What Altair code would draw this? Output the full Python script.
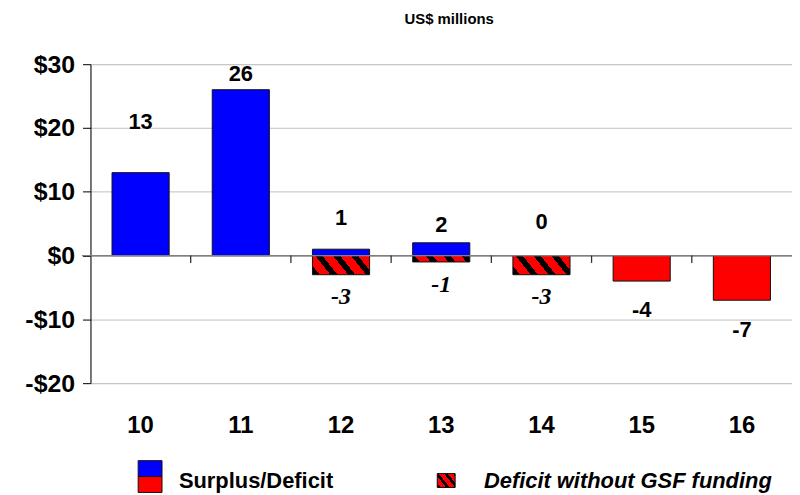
import altair as alt
import pandas as pd

# ---------------- data ----------------
years = ["10", "11", "12", "13", "14", "15", "16"]
surplus = [13, 26, 1, 2, 0, -4, -7]
deficit_no_gsf = [None, None, -3, -1, -3, None, None]
surplus_label_at = [21.0, 28.5, 5.9, 4.8, 5.2, -8.6, -11.6]
no_gsf_label_at = [None, None, -6.45, -4.6, -6.45, None, None]
y_ticks = [-20, -10, 0, 10, 20, 30]
y_domain = [-20, 30]

# ---------------- layout ----------------
W, H = 706, 321
PAD_IN = 0.43
PAD_OUT = PAD_IN / 2
step = W / (len(years) - PAD_IN + 2 * PAD_OUT)
bar_w = step * (1 - PAD_IN)
px_per_unit = H / (y_domain[1] - y_domain[0])

BLUE = "#0000FF"
RED = "#FF0000"
FONT = "Liberation Sans"
SERIF = "Liberation Serif"


def hatch(w, h, period=18.0, slope=0.8, frac=0.4):
    """Diagonal black-on-red stripes as a linear gradient (bbox units)."""
    k = slope * h / w
    gx = (1 + k) / (1 + k * k)
    gy = -k * gx
    n = (w + slope * h) / period
    stops = []
    i = 0
    while i < n:
        a = i / n
        b = min((i + frac) / n, 1.0)
        c = min((i + 1) / n, 1.0)
        stops += [(a, "black"), (b, "black"), (b, RED), (c, RED)]
        i += 1
    return alt.LinearGradient(
        gradient="linear",
        stops=[alt.GradientStop(color=col, offset=off) for off, col in stops],
        x1=0, y1=1, x2=gx, y2=1 + gy,
    )


df = pd.DataFrame({
    "year": years,
    "surplus": surplus,
    "no_gsf": deficit_no_gsf,
    "lab_at": surplus_label_at,
    "gsf_lab_at": no_gsf_label_at,
})
df["lab"] = df["surplus"].astype(str)
df["gsf_lab"] = df["no_gsf"].apply(lambda v: "" if pd.isna(v) else str(int(v)))

xscale = alt.Scale(domain=years, paddingInner=PAD_IN, paddingOuter=PAD_OUT)
yscale = alt.Scale(domain=y_domain, nice=False, zero=False)

x_axis = alt.Axis(
    title="", orient="bottom", domain=False, ticks=False, grid=False,
    labelAngle=0, labelFont=FONT, labelFontSize=24, labelFontWeight="bold",
    labelColor="black", labelPadding=31,
)
y_axis = alt.Axis(
    title="", values=y_ticks, grid=True, gridColor="#c0c0c0", gridWidth=1,
    domainColor="black", tickColor="black", tickSize=8,
    labelExpr="datum.value < 0 ? '-$' + abs(datum.value) : '$' + datum.value",
    labelFont=FONT, labelFontSize=25, labelFontWeight="bold",
    labelColor="black", labelPadding=8,
)


def X(field="year:N"):
    return alt.X(field, scale=xscale, axis=x_axis)


def Y(field):
    return alt.Y(field, scale=yscale, axis=y_axis)


base = alt.Chart(df)

# surplus / deficit bars
bars = (
    base.transform_filter(alt.datum.surplus != 0)
    .mark_bar(stroke="#111111", strokeWidth=1)
    .encode(
        x=X(),
        y=Y("surplus:Q"),
        fill=alt.condition(alt.datum.surplus > 0, alt.value(BLUE), alt.value(RED)),
    )
)

# hatched "deficit without GSF funding" bars
hatched_layers = []
for v in sorted(set(x for x in deficit_no_gsf if x is not None)):
    h_px = abs(v) * px_per_unit
    hatched_layers.append(
        base.transform_filter(alt.datum.no_gsf == v)
        .mark_bar(fill=hatch(bar_w, h_px), stroke="#111111", strokeWidth=1)
        .encode(x=X(), y=Y("no_gsf:Q"))
    )

# zero line (also covers the y-axis tick at $0)
zero_line = base.mark_rule(color="#808080", strokeWidth=1).encode(
    y=alt.datum(0, scale=yscale, axis=y_axis),
    x=alt.value(-8),
    x2=alt.value(W),
)
# category boundary ticks: thin bars one pixel wide, placed at the band gap
bound_ticks = (
    base.transform_filter(alt.datum.year != years[0])
    .mark_bar(color="#333333", width=1.3, xOffset=-step / 2)
    .encode(
        x=X(),
        y=alt.datum(0, scale=yscale, axis=y_axis),
        y2=alt.datum(-1.15),
    )
)

# value labels
labels = (
    base.mark_text(font=FONT, fontSize=22, fontWeight="bold", color="black", baseline="middle")
    .encode(x=X(), y=Y("lab_at:Q"), text="lab:N")
)
gsf_labels = (
    base.transform_filter("isValid(datum.gsf_lab_at)")
    .mark_text(font=SERIF, fontSize=24, fontWeight="bold", fontStyle="italic",
               color="black", baseline="middle")
    .encode(x=X(), y=Y("gsf_lab_at:Q"), text="gsf_lab:N")
)

# title
one = alt.Chart(pd.DataFrame({"k": [0]}))
title = one.mark_text(font=FONT, fontSize=15, fontWeight="bold", color="black",
                      align="center", baseline="middle").encode(
    x=alt.value(361), y=alt.value(-45), text=alt.value("US$ millions"))

# legend
leg_blue = one.mark_rect(fill=BLUE, stroke="#111111", strokeWidth=1).encode(
    x=alt.value(48), x2=alt.value(72), y=alt.value(399), y2=alt.value(415))
leg_red = one.mark_rect(fill=RED, stroke="#111111", strokeWidth=1).encode(
    x=alt.value(48), x2=alt.value(72), y=alt.value(415), y2=alt.value(431))
leg_text1 = one.mark_text(font=FONT, fontSize=22, fontWeight="bold", color="black",
                          align="left", baseline="middle").encode(
    x=alt.value(89), y=alt.value(420), text=alt.value("Surplus/Deficit"))
leg_hatch = one.mark_rect(fill=hatch(18, 14, period=9, slope=0.8, frac=0.4),
                          stroke="#111111", strokeWidth=1).encode(
    x=alt.value(349), x2=alt.value(367), y=alt.value(412), y2=alt.value(426))
leg_text2 = one.mark_text(font=FONT, fontSize=22, fontWeight="bold", fontStyle="italic",
                          color="black", align="left", baseline="middle").encode(
    x=alt.value(396), y=alt.value(420), text=alt.value("Deficit without GSF funding"))

chart = alt.layer(
    bars, *hatched_layers, zero_line, bound_ticks, labels, gsf_labels,
    title, leg_blue, leg_red, leg_text1, leg_hatch, leg_text2,
).properties(
    width=W, height=H,
    autosize=alt.AutoSizeParams(type="none"),
    padding={"left": 83, "top": 55, "right": 0, "bottom": 111},
).configure_view(strokeWidth=0).configure(background="white")

chart.save("out.html", embed_options={"renderer": "svg", "actions": False})
